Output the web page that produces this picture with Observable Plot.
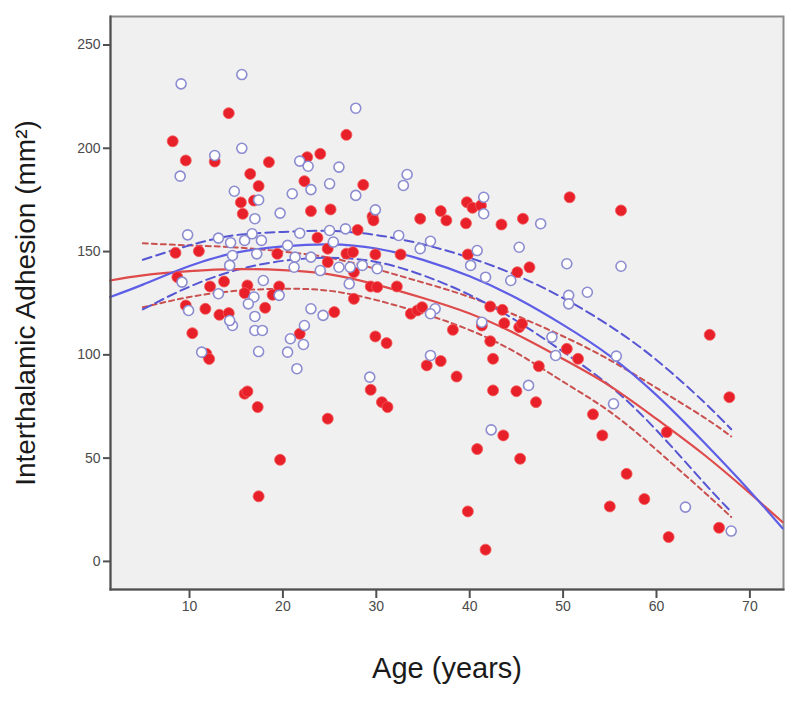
<!DOCTYPE html>
<html><head><meta charset="utf-8">
<script src="https://cdn.jsdelivr.net/npm/d3@7"></script>
<script src="https://cdn.jsdelivr.net/npm/@observablehq/plot@0.6"></script>
<style>body{margin:0;background:#fff;}</style>
</head><body><div id="chart"></div>
<script>
const xTicks = [10, 20, 30, 40, 50, 60, 70];
const yTicks = [0, 50, 100, 150, 200, 250];
const xTitle = "Age (years)";
const yTitle = "Interthalamic Adhesion (mm²)";

// Group 1: filled red dots
const redAge = [14.2,8.2,9.6,12.7,18.5,24.0,22.6,16.5,17.4,22.3,15.5,15.7,16.9,23.0,25.1,8.5,11.0,19.4,23.7,24.8,24.8,8.7,12.2,13.7,16.2,19.6,15.9,18.9,26.8,27.5,28.0,27.6,27.6,9.6,11.7,13.2,14.2,18.1,25.5,10.3,21.8,11.8,12.1,15.9,16.2,17.3,24.8,19.7,17.4,26.8,28.6,29.6,29.7,34.7,36.9,37.5,39.6,39.7,40.3,41.2,43.4,45.7,50.7,29.9,32.6,39.8,45.1,46.4,29.4,30.1,32.2,33.7,34.4,34.9,42.2,43.5,43.7,45.3,45.6,38.2,41.3,42.2,29.9,31.1,42.5,47.4,50.4,51.6,35.4,36.9,38.6,29.4,42.5,45.0,30.6,31.2,39.8,41.7,40.8,43.6,45.4,47.1,65.7,67.8,53.2,54.2,56.8,55.0,58.7,61.1,61.3,66.7,56.2];
const redArea = [217,203.4,194.1,193.6,193.3,197.3,195.7,187.6,181.7,184.1,173.8,168.3,174.7,169.6,170.4,149.4,150.2,148.9,156.7,151.4,144.9,137.6,133.1,135.5,133.6,133.1,129.9,129.1,149,149.7,160.5,140,127.1,123.9,122.3,119.4,120.2,122.8,120.7,110.5,110.2,100.5,98,81.2,82.3,74.7,69.1,49.2,31.5,206.5,182.3,167,165.1,165.9,169.6,165.1,163.7,173.9,171.2,172.3,163.1,165.9,176.3,148.6,148.6,148.6,140,142.4,133.1,132.8,133.1,119.9,121.5,123.1,123.4,121.8,115.3,113.4,115,112.1,114.2,106.6,108.9,105.7,98.1,94.5,102.9,98.1,94.9,97,89.5,83.1,82.8,82.4,77.1,74.7,24.2,5.7,54.4,61,49.7,77.1,109.7,79.5,71.2,61,42.4,26.6,30.2,62.6,11.8,16.3,169.9];

// Group 2: open blue circles
const blueAge = [9.1,15.6,15.6,12.7,9.0,14.8,17.4,17.0,19.7,21.0,21.8,22.7,23.0,25.0,26.0,9.8,13.1,14.4,15.9,16.7,17.7,21.8,25.0,25.4,20.5,14.6,17.2,21.3,23.0,14.3,21.2,24.0,26.0,9.2,17.9,13.1,19.6,16.9,26.7,27.1,9.9,16.3,23.0,24.3,14.6,17.0,17.0,17.8,22.3,20.8,14.3,17.4,11.3,20.5,22.2,21.5,27.8,27.8,33.3,32.9,29.9,41.5,41.5,47.6,45.3,50.4,50.6,32.4,35.8,34.7,40.8,40.1,41.7,44.4,27.2,28.5,30.1,52.6,50.6,36.3,35.8,41.3,48.8,49.2,35.8,29.3,46.3,42.3,55.7,55.4,63.1,68.0,56.2];
const blueArea = [231.2,235.7,200,196.5,186.5,179.2,175,165.9,168.6,178,193.8,191.3,180,182.8,190.9,158.1,156.5,154.3,155.4,158.6,155.4,158.9,160.2,154.6,153,148.1,148.9,147.3,147.3,143.3,142.4,140.8,142.4,135.2,136,129.6,128.8,128,161,134.4,121.5,124.7,122.3,119.1,114.2,118.6,111.8,111.8,114.2,107.8,116.6,101.6,101.3,101.3,105,93.3,219.4,177.2,187.3,182,170.2,176.3,168.3,163.5,152.1,144.1,128.8,157.8,155,151.4,150.5,143.3,137.6,136,142.4,143.3,141.7,130.3,124.7,122.3,119.9,115.8,108.6,99.7,99.7,89.2,85.2,63.7,99.4,76.3,26.3,14.7,142.9];

// Fitted curves
const fitAge = [1.5,5,10,15,20,25,30,35,40,45,50,55,60,65,70,73.5];
const redFit = [136,138.5,140.5,141.5,141,139,134,127.5,120,110,98,85,69,52,33,19];
const blueFit = [128,134,143,149.5,152.5,153.5,151.5,146,138,127.5,114.5,99.5,80.5,58,34,16];
const ciAge = [5,10,15,20,25,30,35,40,45,50,55,60,65,68];
const redUpper = [154,153,152,150,147,141.5,135,128,119,109,97.5,84,70,60.5];
const redLower = [123,128,131,132,131,126.5,120,112,101,87,72.5,54,34,21.5];
const blueUpper = [146,153,158,159.5,160,158,153.5,147,138.5,127.5,114,97.5,77.5,64];
const blueLower = [122,133,141,145.5,147,145,138.5,129,116.5,101.5,85,63.5,38.5,24];

const red = redAge.map((a, i) => ({age: a, area: redArea[i]}));
const blue = blueAge.map((a, i) => ({age: a, area: blueArea[i]}));
const toPts = (xs, ys) => xs.map((x, i) => ({age: x, area: ys[i]}));

const chart = Plot.plot({
  width: 798,
  height: 701,
  marginLeft: 110,
  marginRight: 15,
  marginTop: 16,
  marginBottom: 112,
  style: {fontFamily: "'Liberation Sans', Arial, sans-serif", color: "#4a4a4a", background: "#ffffff"},
  x: {domain: [1.54, 73.6]},
  y: {domain: [-13.6, 263.8]},
  marks: [
    Plot.frame({fill: "#f0f0f0", stroke: "#8c8c8c", strokeWidth: 2}),
    Plot.line(toPts(ciAge, redUpper), {x: "age", y: "area", stroke: "#c9504f", strokeWidth: 2, strokeDasharray: "5,4", curve: "natural"}),
    Plot.line(toPts(ciAge, redLower), {x: "age", y: "area", stroke: "#c9504f", strokeWidth: 2, strokeDasharray: "5,4", curve: "natural"}),
    Plot.line(toPts(ciAge, blueUpper), {x: "age", y: "area", stroke: "#5656d4", strokeWidth: 2, strokeDasharray: "9,5", curve: "natural"}),
    Plot.line(toPts(ciAge, blueLower), {x: "age", y: "area", stroke: "#5656d4", strokeWidth: 2, strokeDasharray: "9,5", curve: "natural"}),
    Plot.line(toPts(fitAge, redFit), {x: "age", y: "area", stroke: "#df4a4a", strokeWidth: 2.2, curve: "natural"}),
    Plot.line(toPts(fitAge, blueFit), {x: "age", y: "area", stroke: "#5e5ee6", strokeWidth: 2.2, curve: "natural"}),
    Plot.dot(red, {x: "age", y: "area", r: 5.5, fill: "#e8202a", stroke: "#f25a5a", strokeWidth: 0.8}),
    Plot.dot(blue, {x: "age", y: "area", r: 5, fill: "#ffffff", stroke: "#8c8cd0", strokeWidth: 1.6}),
    Plot.frame({anchor: "left", stroke: "#505050", strokeWidth: 2}),
    Plot.frame({anchor: "bottom", stroke: "#505050", strokeWidth: 2}),
    Plot.axisX({ticks: xTicks, tickSize: 9, tickPadding: 3, fontSize: 14, label: null, stroke: "#505050", strokeWidth: 2}),
    Plot.axisY({ticks: yTicks, tickSize: 7, tickPadding: 3, fontSize: 14, label: null, stroke: "#505050", strokeWidth: 2}),
    Plot.text([xTitle], {text: d => d, frameAnchor: "bottom", dy: 88, fontSize: 29, fill: "#1a1a1a"}),
    Plot.text([yTitle], {text: d => d, frameAnchor: "left", textAnchor: "middle", dx: -84, rotate: -90, fontSize: 28, fill: "#1a1a1a"})
  ]
});
document.getElementById("chart").appendChild(chart);
</script>
</body></html>
